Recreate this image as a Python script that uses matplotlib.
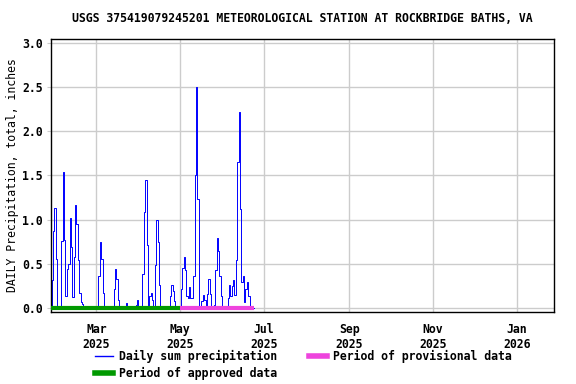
import numpy as np
import pandas as pd
import matplotlib
matplotlib.use('Agg')
import matplotlib.pyplot as plt
import matplotlib.dates as mdates
from matplotlib.lines import Line2D

# daily precipitation (inches); days not listed are 0
rain_days = ['2025-01-28', '2025-01-29', '2025-01-30', '2025-01-31',
             '2025-02-04', '2025-02-05', '2025-02-06', '2025-02-07', '2025-02-08',
             '2025-02-09', '2025-02-10', '2025-02-11', '2025-02-12', '2025-02-13',
             '2025-02-14', '2025-02-15', '2025-02-16', '2025-02-17',
             '2025-02-18', '2025-02-19', '2025-02-20',
             '2025-03-03', '2025-03-04', '2025-03-05', '2025-03-06',
             '2025-03-14', '2025-03-15', '2025-03-16', '2025-03-17',
             '2025-03-23', '2025-03-24', '2025-03-30', '2025-03-31',
             '2025-04-04', '2025-04-05', '2025-04-06', '2025-04-07', '2025-04-08',
             '2025-04-09', '2025-04-10', '2025-04-11',
             '2025-04-13', '2025-04-14', '2025-04-15', '2025-04-16',
             '2025-04-24', '2025-04-25', '2025-04-26', '2025-04-27',
             '2025-05-02', '2025-05-03', '2025-05-04', '2025-05-05', '2025-05-06',
             '2025-05-07', '2025-05-08', '2025-05-09',
             '2025-05-10', '2025-05-11', '2025-05-12', '2025-05-13', '2025-05-14',
             '2025-05-16', '2025-05-17', '2025-05-18', '2025-05-19',
             '2025-05-21', '2025-05-22', '2025-05-23',
             '2025-05-26', '2025-05-27', '2025-05-28', '2025-05-29', '2025-05-30', '2025-05-31',
             '2025-06-05', '2025-06-06', '2025-06-07', '2025-06-08', '2025-06-09', '2025-06-10',
             '2025-06-11', '2025-06-12', '2025-06-13', '2025-06-14', '2025-06-15',
             '2025-06-16', '2025-06-17', '2025-06-18', '2025-06-19', '2025-06-20']
rain_vals = [0.32, 0.87, 1.13, 0.56,
             0.76, 1.54, 0.77, 0.14, 0.45,
             0.50, 1.02, 0.69, 0.13, 0.58,
             1.17, 0.95, 0.55, 0.17,
             0.07, 0.05, 0.02,
             0.37, 0.75, 0.56, 0.17,
             0.22, 0.45, 0.33, 0.10,
             0.06, 0.03, 0.04, 0.09,
             0.39, 1.09, 1.45, 0.72, 0.03,
             0.14, 0.18, 0.09,
             0.49, 1.00, 0.75, 0.26,
             0.14, 0.27, 0.20, 0.08,
             0.22, 0.46, 0.58, 0.43, 0.14,
             0.12, 0.24, 0.12,
             0.12, 0.37, 1.50, 2.50, 1.24,
             0.03, 0.08, 0.15, 0.10,
             0.16, 0.33, 0.16,
             0.04, 0.43, 0.79, 0.65, 0.37, 0.14,
             0.12, 0.26, 0.14, 0.25, 0.32, 0.15,
             0.55, 1.65, 2.22, 1.12, 0.30,
             0.37, 0.07, 0.22, 0.30, 0.14]

data_start = '2025-01-27'
data_end = '2025-06-24'
approved = ('2025-01-27', '2025-05-01')
provisional = ('2025-05-01', '2025-06-24')

days = pd.date_range(data_start, data_end, freq='D')
precip = pd.Series(0.0, index=days)
precip[pd.to_datetime(rain_days)] = rain_vals

plt.rcParams['font.family'] = 'DejaVu Sans Mono'
plt.rcParams['font.weight'] = 'bold'
plt.rcParams['font.size'] = 8.3

fig = plt.figure(figsize=(5.76, 3.84), dpi=100)
ax = fig.add_axes([51/576, 1-312/384, (554-51)/576, (312-39)/384])

ax.plot(precip.index, precip.values, color='blue', lw=0.7, drawstyle='steps-mid', zorder=2)
ax.plot(pd.to_datetime(approved), [0, 0], color='#009900', lw=3, solid_capstyle='butt', zorder=3)
ax.plot(pd.to_datetime(provisional), [0, 0], color='#ee44dd', lw=3, solid_capstyle='butt', zorder=3)

ax.set_xlim(pd.Timestamp('2025-01-27'), pd.Timestamp('2026-01-28'))
ax.set_ylim(-0.04, 3.04)
ax.set_yticks(np.arange(0, 3.01, 0.5))
ax.yaxis.set_major_formatter(matplotlib.ticker.FormatStrFormatter('%.1f'))
ax.xaxis.set_major_locator(mdates.MonthLocator(bymonth=[1, 3, 5, 7, 9, 11]))
ax.xaxis.set_major_formatter(mdates.DateFormatter('%b\n%Y'))
ax.grid(True, color='#cccccc', lw=1)
ax.set_axisbelow(True)
ax.tick_params(axis='y', length=3, color='#cccccc', pad=3)
ax.tick_params(axis='x', length=0, pad=8)
for lab in ax.get_xticklabels():
    lab.set_horizontalalignment('center')
for s in ax.spines.values():
    s.set_linewidth(1)

ax.set_ylabel('DAILY Precipitation, total, inches', labelpad=2)
fig.text(302/576, 1-19/384, 'USGS 375419079245201 METEOROLOGICAL STATION AT ROCKBRIDGE BATHS, VA',
         ha='center', va='center')

handles = [Line2D([], [], color='blue', lw=1),
           Line2D([], [], color='#009900', lw=4),
           Line2D([], [], color='#ee44dd', lw=4)]
labels = ['Daily sum precipitation', 'Period of approved data', 'Period of provisional data']
fig.legend(handles, labels, ncol=2, frameon=False, loc='upper left',
           bbox_to_anchor=(95/576, 1-350/384), borderpad=0, borderaxespad=0,
           handlelength=1.56, handletextpad=0.53, columnspacing=2.75, labelspacing=0.35)

fig.savefig('out.png', dpi=100)
